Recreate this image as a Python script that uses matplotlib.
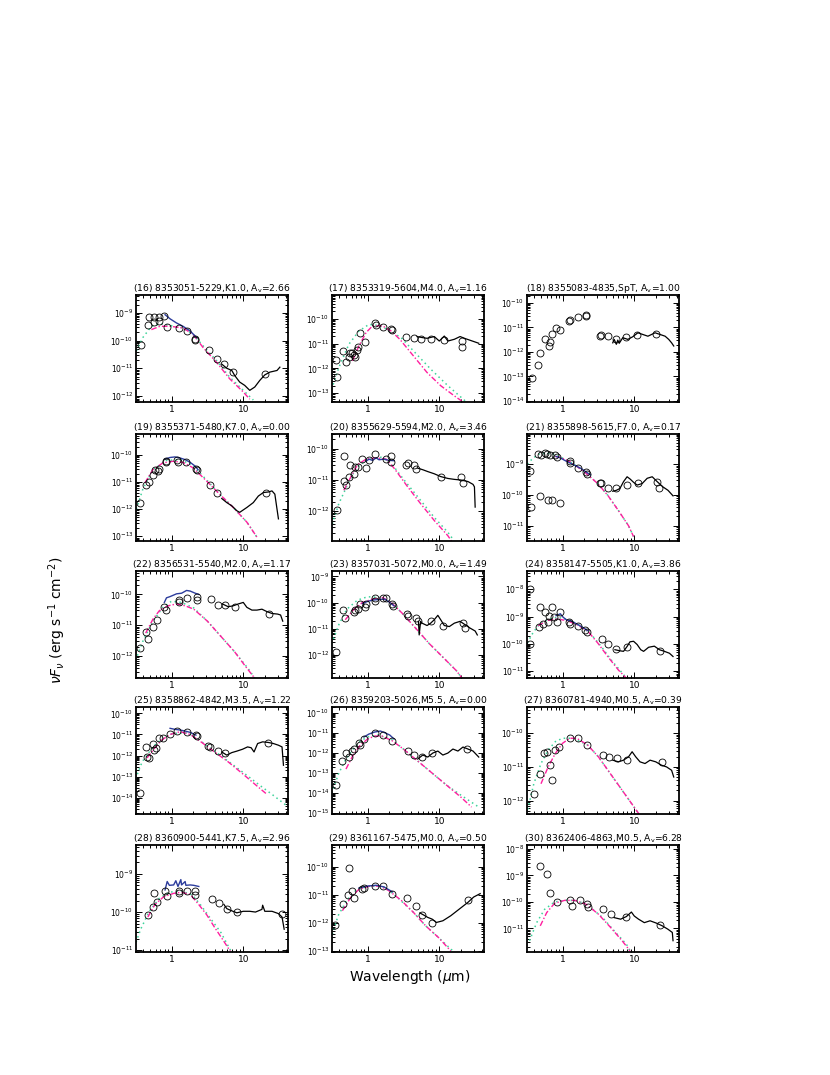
import numpy as np
import matplotlib.pyplot as plt
from matplotlib.ticker import NullFormatter, LogLocator, LogFormatterSciNotation

# panel ids and titles
panels = list(range(16, 31))
names = {16: "8353051-5229,K1.0", 17: "8353319-5604,M4.0", 18: "8355083-4835,SpT",
         19: "8355371-5480,K7.0", 20: "8355629-5594,M2.0", 21: "8355898-5615,F7.0",
         22: "8356531-5540,M2.0", 23: "8357031-5072,M0.0", 24: "8358147-5505,K1.0",
         25: "8358862-4842,M3.5", 26: "8359203-5026,M5.5", 27: "8360781-4940,M0.5",
         28: "8360900-5441,K7.5", 29: "8361167-5475,M0.0", 30: "8362406-4863,M0.5"}
av = {16: "2.66", 17: "1.16", 18: "1.00", 19: "0.00", 20: "3.46", 21: "0.17",
      22: "1.17", 23: "1.49", 24: "3.86", 25: "1.22", 26: "0.00", 27: "0.39",
      28: "2.96", 29: "0.50", 30: "6.28"}

# y range of each panel (erg s-1 cm-2)
ylims = {16: (6e-13, 4.5e-9), 17: (4.4e-14, 9e-10), 18: (9e-15, 2.1e-10),
         19: (6.7e-14, 5.8e-10), 20: (1.1e-13, 3e-10), 21: (3.2e-12, 9.5e-9),
         22: (1.9e-13, 5.8e-10), 23: (1.3e-13, 1.6e-9), 24: (5.5e-12, 4.7e-8),
         25: (1.7e-15, 2e-10), 26: (9e-16, 2e-10), 27: (4e-13, 6e-10),
         28: (9e-12, 5.7e-9), 29: (9e-14, 6e-10), 30: (1.3e-12, 1.4e-8)}

# photometry: (log10 wavelength [um], log10 nuFnu)
phot = {
    16: ([-0.43, -0.33, -0.31, -0.24, -0.25, -0.17, -0.17, -0.10, -0.06, 0.11, 0.21, 0.33, 0.33, 0.52, 0.63, 0.73, 0.86, 1.30],
         [-10.15, -9.42, -9.14, -9.14, -9.33, -9.14, -9.30, -9.10, -9.51, -9.54, -9.65, -9.93, -9.98, -10.35, -10.67, -10.85, -11.14, -11.20]),
    17: ([-0.44, -0.43, -0.34, -0.30, -0.26, -0.24, -0.21, -0.19, -0.18, -0.15, -0.13, -0.10, -0.03, 0.10, 0.12, 0.22, 0.33, 0.34, 0.53, 0.65, 0.75, 0.89, 1.06, 1.32, 1.32],
         [-11.67, -12.34, -11.30, -11.73, -11.53, -11.39, -11.37, -11.45, -11.53, -11.26, -11.16, -10.56, -10.94, -10.16, -10.27, -10.33, -10.43, -10.47, -10.72, -10.76, -10.83, -10.83, -10.87, -10.90, -11.14]),
    18: ([-0.43, -0.34, -0.31, -0.25, -0.19, -0.18, -0.15, -0.09, -0.03, 0.09, 0.10, 0.22, 0.33, 0.33, 0.52, 0.53, 0.64, 0.75, 0.89, 1.04, 1.30],
         [-13.05, -12.54, -12.03, -11.49, -11.76, -11.60, -11.25, -11.02, -11.11, -10.75, -10.68, -10.58, -10.54, -10.49, -11.36, -11.33, -11.36, -11.49, -11.38, -11.33, -11.26]),
    19: ([-0.44, -0.35, -0.32, -0.26, -0.23, -0.19, -0.17, -0.08, -0.07, 0.08, 0.09, 0.20, 0.34, 0.35, 0.53, 0.63, 1.32],
         [-11.78, -11.12, -10.99, -10.73, -10.55, -10.61, -10.51, -10.28, -10.24, -10.21, -10.27, -10.28, -10.51, -10.57, -11.13, -11.39, -11.42]),
    20: ([-0.43, -0.33, -0.33, -0.30, -0.26, -0.24, -0.19, -0.18, -0.13, -0.08, -0.02, 0.02, 0.10, 0.26, 0.33, 0.33, 0.53, 0.57, 0.65, 0.67, 1.02, 1.30, 1.33],
         [-11.96, -10.22, -11.02, -11.16, -10.91, -10.51, -10.82, -10.57, -10.57, -10.33, -10.60, -10.37, -10.16, -10.33, -10.24, -10.42, -10.53, -10.46, -10.53, -10.64, -10.91, -10.91, -11.11]),
    21: ([-0.45, -0.44, -0.34, -0.32, -0.30, -0.25, -0.22, -0.20, -0.18, -0.14, -0.10, -0.03, -0.08, 0.10, 0.11, 0.22, 0.33, 0.34, 0.52, 0.54, 0.64, 0.75, 0.90, 1.05, 1.32, 1.34],
         [-9.22, -10.40, -8.67, -10.04, -8.71, -8.64, -8.66, -10.18, -8.69, -10.18, -8.71, -10.26, -8.78, -8.91, -8.95, -9.11, -9.26, -9.32, -9.60, -9.60, -9.76, -9.77, -9.68, -9.60, -9.57, -9.77]),
    22: ([-0.44, -0.36, -0.33, -0.26, -0.20, -0.10, -0.07, 0.10, 0.11, 0.22, 0.35, 0.35, 0.55, 0.65, 0.75, 0.88, 1.36],
         [-11.73, -11.22, -11.44, -11.07, -10.84, -10.42, -10.51, -10.26, -10.18, -10.11, -10.07, -10.18, -10.14, -10.34, -10.33, -10.40, -10.64]),
    23: ([-0.44, -0.34, -0.31, -0.19, -0.17, -0.13, -0.10, -0.03, -0.02, 0.10, 0.10, 0.21, 0.26, 0.34, 0.36, 0.55, 0.57, 0.67, 0.70, 0.88, 1.05, 1.33, 1.36],
         [-11.89, -10.30, -10.59, -10.36, -10.30, -10.23, -10.07, -10.17, -10.04, -9.81, -9.94, -9.81, -9.83, -10.07, -10.13, -10.43, -10.50, -10.59, -10.69, -10.72, -10.88, -10.79, -10.96]),
    24: ([-0.45, -0.45, -0.33, -0.31, -0.27, -0.25, -0.20, -0.19, -0.14, -0.12, -0.07, -0.04, 0.09, 0.11, 0.22, 0.32, 0.34, 0.55, 0.64, 0.75, 0.90, 1.36],
         [-8.00, -10.01, -9.38, -8.65, -9.28, -8.84, -9.22, -8.97, -8.65, -9.03, -9.22, -8.84, -9.22, -9.28, -9.34, -9.51, -9.56, -9.84, -10.01, -10.20, -10.13, -10.26]),
    25: ([-0.44, -0.36, -0.34, -0.31, -0.26, -0.24, -0.21, -0.17, -0.12, -0.02, 0.08, 0.21, 0.34, 0.35, 0.51, 0.53, 0.65, 0.75, 1.35],
         [-13.76, -11.59, -12.06, -12.11, -11.43, -11.75, -11.63, -11.19, -11.19, -11.00, -10.84, -10.90, -11.03, -11.08, -11.56, -11.59, -11.78, -11.87, -11.40]),
    26: ([-0.44, -0.35, -0.30, -0.26, -0.22, -0.19, -0.12, -0.10, -0.05, 0.10, 0.22, 0.34, 0.56, 0.65, 0.76, 0.90, 1.38],
         [-13.6, -12.4, -12.0, -12.2, -11.9, -11.8, -11.5, -11.6, -11.3, -11.0, -11.1, -11.4, -11.9, -12.1, -12.2, -12.0, -11.8]),
    27: ([-0.40, -0.32, -0.26, -0.21, -0.17, -0.15, -0.10, -0.05, 0.10, 0.22, 0.34, 0.56, 0.65, 0.76, 0.90, 1.38],
         [-11.8, -11.2, -10.6, -10.55, -10.95, -11.4, -10.5, -10.4, -10.15, -10.15, -10.35, -10.65, -10.7, -10.75, -10.8, -10.85]),
    28: ([-0.25, -0.33, -0.26, -0.20, -0.09, -0.06, 0.10, 0.11, 0.21, 0.33, 0.33, 0.57, 0.66, 0.77, 0.91, 1.54],
         [-9.51, -10.07, -9.87, -9.73, -9.45, -9.58, -9.45, -9.51, -9.45, -9.45, -9.55, -9.66, -9.75, -9.93, -10.00, -10.04]),
    29: ([-0.45, -0.26, -0.34, -0.27, -0.22, -0.19, -0.08, -0.05, 0.10, 0.22, 0.34, 0.55, 0.67, 0.76, 0.90, 1.40],
         [-12.08, -10.04, -11.33, -11.02, -10.87, -11.12, -10.78, -10.76, -10.69, -10.69, -10.99, -11.12, -11.41, -11.72, -12.02, -11.20]),
    30: ([-0.32, -0.22, -0.17, -0.07, 0.11, 0.13, 0.25, 0.34, 0.36, 0.57, 0.67, 0.89, 1.36],
         [-8.63, -8.96, -9.68, -9.99, -9.93, -10.15, -9.94, -10.09, -10.19, -10.28, -10.44, -10.55, -10.86]),
}

# mid-IR spectra (black)
irs = {
    16: ([0.70, 0.77, 0.84, 0.88, 0.95, 1.02, 1.09, 1.16, 1.23, 1.30, 1.37, 1.47, 1.51],
         [-10.85, -11.00, -11.08, -11.26, -11.50, -11.62, -11.80, -11.68, -11.44, -11.24, -11.14, -11.08, -10.96]),
    17: ([0.69, 0.76, 0.83, 0.93, 1.00, 1.07, 1.12, 1.21, 1.29, 1.36, 1.43, 1.50, 1.55],
         [-10.72, -10.76, -10.79, -10.72, -10.90, -10.70, -10.90, -10.83, -10.72, -10.80, -10.87, -10.94, -10.99]),
    18: ([0.70, 0.72, 0.75, 0.77, 0.79, 0.84, 0.91, 0.98, 1.05, 1.12, 1.19, 1.29, 1.36, 1.43, 1.48, 1.52, 1.55],
         [-11.63, -11.49, -11.69, -11.52, -11.65, -11.42, -11.49, -11.38, -11.22, -11.29, -11.36, -11.22, -11.29, -11.36, -11.49, -11.63, -11.76]),
    19: ([0.70, 0.77, 0.84, 0.91, 0.95, 1.05, 1.14, 1.21, 1.28, 1.35, 1.40, 1.44, 1.47, 1.49],
         [-11.61, -11.76, -11.88, -12.06, -12.12, -11.94, -11.76, -11.52, -11.39, -11.37, -11.33, -11.45, -12.00, -12.36]),
    20: ([0.70, 0.77, 0.84, 0.93, 1.02, 1.12, 1.21, 1.30, 1.40, 1.47, 1.49, 1.50],
         [-10.62, -10.67, -10.73, -10.80, -10.89, -10.95, -10.98, -11.00, -11.05, -11.14, -11.22, -11.87]),
    21: ([0.70, 0.75, 0.80, 0.85, 0.90, 0.94, 0.99, 1.04, 1.11, 1.18, 1.25, 1.32, 1.40, 1.47, 1.54],
         [-9.88, -9.85, -9.79, -9.57, -9.41, -9.48, -9.59, -9.68, -9.63, -9.46, -9.41, -9.57, -9.74, -9.85, -10.03]),
    22: ([0.71, 0.79, 0.86, 0.93, 1.00, 1.05, 1.12, 1.19, 1.26, 1.33, 1.40, 1.48, 1.52, 1.55],
         [-10.31, -10.40, -10.37, -10.31, -10.26, -10.42, -10.51, -10.51, -10.48, -10.56, -10.62, -10.64, -10.67, -10.87]),
    23: ([0.71, 0.72, 0.74, 0.76, 0.83, 0.88, 0.93, 0.98, 1.02, 1.07, 1.14, 1.21, 1.29, 1.36, 1.43, 1.50, 1.53],
         [-10.72, -11.24, -10.72, -10.79, -10.88, -10.79, -10.66, -10.49, -10.66, -10.88, -10.92, -10.79, -10.72, -10.85, -10.98, -11.09, -11.24]),
    24: ([0.73, 0.80, 0.85, 0.90, 0.94, 0.99, 1.04, 1.09, 1.13, 1.20, 1.28, 1.35, 1.42, 1.49, 1.54],
         [-10.22, -10.26, -10.28, -10.10, -9.93, -9.91, -10.03, -10.22, -10.28, -10.13, -10.09, -10.22, -10.28, -10.35, -10.47]),
    25: ([0.70, 0.77, 0.84, 0.91, 0.99, 1.06, 1.11, 1.15, 1.20, 1.27, 1.35, 1.42, 1.49, 1.54, 1.56],
         [-11.83, -11.98, -11.86, -11.79, -11.70, -11.59, -11.63, -11.83, -11.43, -11.35, -11.38, -11.43, -11.51, -11.59, -12.46]),
    26: ([0.70, 0.77, 0.84, 0.91, 0.98, 1.05, 1.12, 1.19, 1.26, 1.33, 1.40, 1.47, 1.55],
         [-12.3, -12.1, -12.2, -12.0, -11.9, -12.1, -12.0, -11.8, -11.9, -11.7, -11.8, -11.9, -12.2]),
    27: ([0.70, 0.78, 0.85, 0.92, 0.97, 1.02, 1.08, 1.15, 1.22, 1.30, 1.38, 1.45, 1.52, 1.55],
         [-10.8, -10.85, -10.8, -10.7, -10.55, -10.7, -10.85, -10.9, -10.8, -10.85, -10.95, -11.0, -11.1, -11.3]),
    28: ([0.73, 0.77, 0.83, 0.91, 1.00, 1.09, 1.17, 1.26, 1.27, 1.30, 1.40, 1.49, 1.54, 1.57],
         [-9.80, -9.91, -9.96, -10.02, -9.98, -9.98, -10.00, -9.93, -9.82, -9.98, -9.98, -10.04, -10.13, -10.45]),
    29: ([0.73, 0.78, 0.84, 0.90, 0.96, 1.05, 1.16, 1.28, 1.40, 1.48, 1.57],
         [-11.65, -11.72, -11.81, -11.87, -11.99, -11.93, -11.75, -11.51, -11.27, -11.08, -10.96]),
    30: ([0.72, 0.81, 0.89, 0.96, 1.00, 1.06, 1.14, 1.22, 1.31, 1.39, 1.47, 1.53, 1.54],
         [-10.59, -10.65, -10.55, -10.38, -10.53, -10.65, -10.78, -10.71, -10.80, -10.90, -11.03, -11.15, -11.46]),
}

# near-IR spectra (blue)
nir = {
    16: ([-0.09, -0.02, 0.07, 0.16, 0.26, 0.35], [-9.06, -9.21, -9.36, -9.48, -9.65, -9.89]),
    19: ([-0.09, -0.02, 0.05, 0.12, 0.19, 0.26, 0.33, 0.37], [-10.16, -10.10, -10.08, -10.12, -10.18, -10.28, -10.42, -10.55]),
    20: ([-0.02, 0.02, 0.07, 0.12, 0.16, 0.23, 0.30, 0.37], [-10.40, -10.33, -10.37, -10.29, -10.35, -10.33, -10.37, -10.38]),
    21: ([-0.09, -0.03, 0.04, 0.11, 0.18, 0.25, 0.32, 0.39], [-8.75, -8.80, -8.89, -8.97, -9.05, -9.13, -9.24, -9.35]),
    22: ([-0.10, -0.07, -0.02, 0.02, 0.07, 0.14, 0.21, 0.26, 0.33, 0.38], [-10.26, -10.11, -10.07, -10.03, -9.98, -9.96, -9.87, -9.89, -9.96, -10.00]),
    23: ([-0.07, 0.00, 0.07, 0.14, 0.24, 0.31, 0.37], [-10.04, -9.96, -9.91, -9.89, -9.87, -10.00, -10.13]),
    24: ([-0.09, -0.03, 0.01, 0.06, 0.11, 0.16, 0.23, 0.30, 0.36], [-8.97, -8.90, -9.03, -9.13, -9.15, -9.22, -9.32, -9.43, -9.53]),
    25: ([-0.02, 0.05, 0.12, 0.19, 0.26, 0.34], [-10.71, -10.76, -10.79, -10.84, -10.90, -11.03]),
    26: ([-0.05, 0.02, 0.10, 0.18, 0.25, 0.31, 0.37], [-11.2, -11.05, -10.95, -10.9, -11.0, -11.1, -11.3]),
    28: ([-0.09, -0.06, -0.03, 0.03, 0.06, 0.09, 0.13, 0.14, 0.19, 0.20, 0.26, 0.31, 0.38],
         [-9.42, -9.20, -9.30, -9.29, -9.18, -9.33, -9.15, -9.29, -9.20, -9.30, -9.29, -9.30, -9.33]),
    29: ([-0.12, 0.00, 0.12, 0.23, 0.35], [-10.76, -10.69, -10.66, -10.72, -10.90]),
}

# reddened photosphere (magenta dash-dot)
phot_model = {
    16: ([-0.28, -0.16, -0.02, 0.16, 0.30, 0.44, 0.63, 0.81, 1.00, 1.09], [-9.60, -9.48, -9.48, -9.54, -9.77, -10.25, -10.79, -11.38, -11.86, -12.12]),
    17: ([-0.21, -0.12, -0.02, 0.07, 0.21, 0.33, 0.45, 0.64, 0.83, 1.02, 1.21, 1.31], [-11.70, -11.10, -10.56, -10.29, -10.29, -10.50, -10.83, -11.50, -12.17, -12.70, -13.11, -13.31]),
    19: ([-0.37, -0.26, -0.12, 0.02, 0.16, 0.30, 0.49, 0.67, 0.86, 1.05, 1.19], [-11.03, -10.55, -10.30, -10.24, -10.28, -10.48, -10.97, -11.45, -11.94, -12.48, -13.03]),
    20: ([-0.33, -0.23, -0.14, -0.02, 0.12, 0.26, 0.37, 0.56, 0.74, 0.93, 1.12, 1.17], [-11.33, -10.89, -10.51, -10.33, -10.29, -10.33, -10.62, -11.22, -11.76, -12.30, -12.79, -12.96]),
    21: ([-0.10, -0.03, 0.11, 0.30, 0.49, 0.63, 0.78, 0.92, 0.99], [-8.75, -8.78, -8.93, -9.24, -9.63, -10.01, -10.51, -11.00, -11.35]),
    22: ([-0.36, -0.26, -0.17, -0.05, 0.07, 0.19, 0.31, 0.50, 0.69, 0.88, 1.02, 1.17], [-11.26, -10.81, -10.53, -10.37, -10.31, -10.37, -10.48, -10.87, -11.37, -11.87, -12.31, -12.76]),
    23: ([-0.31, -0.19, -0.07, 0.07, 0.21, 0.33, 0.48, 0.67, 0.86, 1.05, 1.24, 1.32], [-10.66, -10.26, -10.00, -9.87, -9.81, -10.00, -10.40, -10.98, -11.57, -12.09, -12.61, -12.91]),
    24: ([-0.34, -0.22, -0.08, 0.06, 0.20, 0.35, 0.49, 0.63, 0.78, 0.90], [-9.34, -9.15, -9.09, -9.15, -9.30, -9.53, -9.97, -10.47, -10.97, -11.29]),
    25: ([-0.34, -0.24, -0.14, -0.02, 0.12, 0.26, 0.41, 0.60, 0.79, 0.99, 1.18, 1.32], [-12.11, -11.67, -11.27, -11.00, -10.87, -11.00, -11.35, -11.83, -12.30, -12.86, -13.41, -13.81]),
    26: ([-0.30, -0.20, -0.10, 0.00, 0.10, 0.20, 0.35, 0.50, 0.70, 0.90, 1.10, 1.30, 1.45], [-12.8, -12.1, -11.6, -11.3, -11.15, -11.15, -11.4, -11.8, -12.4, -13.0, -13.6, -14.2, -14.7]),
    27: ([-0.30, -0.20, -0.10, 0.00, 0.10, 0.20, 0.35, 0.50, 0.70, 0.90, 1.10], [-11.5, -11.0, -10.6, -10.3, -10.15, -10.15, -10.35, -10.7, -11.3, -11.9, -12.5]),
    28: ([-0.33, -0.23, -0.11, 0.03, 0.14, 0.26, 0.37, 0.49, 0.60, 0.71, 0.82], [-10.13, -9.80, -9.60, -9.51, -9.48, -9.54, -9.78, -10.07, -10.40, -10.71, -11.03]),
    29: ([-0.35, -0.23, -0.12, 0.03, 0.17, 0.29, 0.47, 0.64, 0.81, 0.99, 1.16], [-11.57, -11.08, -10.81, -10.69, -10.69, -10.84, -11.20, -11.63, -12.11, -12.53, -13.01]),
    30: ([-0.31, -0.22, -0.11, 0.03, 0.17, 0.33, 0.50, 0.67, 0.83, 0.94], [-10.90, -10.40, -10.05, -9.94, -9.94, -10.09, -10.46, -10.96, -11.46, -11.84]),
}

# dereddened model (green dotted)
star_model = {
    16: ([-0.49, -0.40, -0.28, -0.16, -0.02, 0.16, 0.30, 0.44, 0.63, 0.81, 1.00, 1.14], [-10.37, -9.89, -9.48, -9.39, -9.45, -9.54, -9.77, -10.19, -10.73, -11.32, -11.80, -12.15]),
    17: ([-0.50, -0.40, -0.26, -0.12, 0.02, 0.14, 0.31, 0.48, 0.67, 0.88, 1.12, 1.36], [-12.84, -11.97, -11.03, -10.50, -10.23, -10.27, -10.46, -10.80, -11.39, -12.03, -12.70, -13.31]),
    19: ([-0.49, -0.40, -0.26, -0.07, 0.12, 0.28, 0.49, 0.67, 0.86, 1.05, 1.19], [-12.00, -11.27, -10.55, -10.21, -10.18, -10.36, -10.93, -11.45, -11.94, -12.48, -13.03]),
    20: ([-0.49, -0.40, -0.28, -0.16, 0.00, 0.19, 0.33, 0.51, 0.70, 0.93, 1.12, 1.19], [-12.41, -11.76, -11.16, -10.62, -10.33, -10.27, -10.46, -11.00, -11.54, -12.20, -12.68, -12.90]),
    21: ([-0.49, -0.41, -0.32, -0.22, -0.10, 0.11, 0.30, 0.49, 0.63, 0.78, 0.92, 0.99], [-9.00, -8.80, -8.67, -8.64, -8.69, -8.93, -9.24, -9.63, -10.01, -10.51, -11.00, -11.35]),
    22: ([-0.50, -0.40, -0.26, -0.12, 0.00, 0.14, 0.31, 0.50, 0.69, 0.88, 1.07, 1.17], [-12.14, -11.53, -10.87, -10.42, -10.22, -10.26, -10.44, -10.87, -11.37, -11.87, -12.42, -12.76]),
    23: ([-0.50, -0.40, -0.29, -0.14, 0.00, 0.19, 0.33, 0.48, 0.67, 0.86, 1.05, 1.24, 1.32], [-11.57, -10.85, -10.26, -9.91, -9.78, -9.81, -10.00, -10.40, -10.98, -11.57, -12.09, -12.61, -12.91]),
    24: ([-0.49, -0.41, -0.32, -0.18, -0.06, 0.11, 0.25, 0.40, 0.54, 0.68, 0.82, 0.90], [-9.97, -9.59, -9.28, -9.09, -9.03, -9.15, -9.34, -9.66, -10.10, -10.60, -11.04, -11.29]),
    25: ([-0.50, -0.41, -0.26, -0.12, 0.02, 0.22, 0.41, 0.60, 0.79, 0.99, 1.23, 1.42, 1.66], [-13.10, -12.30, -11.59, -11.16, -10.95, -10.92, -11.32, -11.79, -12.27, -12.78, -13.41, -13.89, -14.52]),
    26: ([-0.50, -0.40, -0.30, -0.20, -0.10, 0.00, 0.15, 0.35, 0.50, 0.70, 0.90, 1.10, 1.30, 1.55], [-14.0, -13.0, -12.3, -11.8, -11.4, -11.2, -11.1, -11.35, -11.8, -12.4, -13.0, -13.6, -14.1, -14.7]),
    27: ([-0.50, -0.40, -0.30, -0.20, -0.10, 0.00, 0.15, 0.35, 0.50, 0.70, 0.90, 1.10], [-12.4, -11.5, -10.9, -10.5, -10.25, -10.15, -10.15, -10.35, -10.7, -11.3, -11.9, -12.5]),
    28: ([-0.54, -0.43, -0.31, -0.17, -0.03, 0.14, 0.29, 0.40, 0.54, 0.69, 0.83], [-11.03, -10.45, -9.98, -9.64, -9.48, -9.45, -9.55, -9.80, -10.16, -10.54, -11.03]),
    29: ([-0.49, -0.41, -0.29, -0.15, 0.03, 0.23, 0.41, 0.64, 0.81, 0.99, 1.19], [-12.41, -11.75, -11.20, -10.81, -10.69, -10.72, -11.08, -11.63, -12.11, -12.53, -13.01]),
    30: ([-0.46, -0.36, -0.25, -0.11, 0.06, 0.22, 0.39, 0.56, 0.72, 0.89, 0.94], [-11.46, -10.78, -10.28, -10.00, -9.93, -9.96, -10.21, -10.59, -11.09, -11.59, -11.84]),
}

W, H = 830, 1075
col_left = [136, 332, 527]
row_top = [295, 434, 571, 707, 845]
ax_w, ax_h = 152, 107

magenta = "#ff1f9f"
green = "#3dd39a"
blue = "#2c3c9c"

fig = plt.figure(figsize=(W / 100, H / 100), dpi=100)


def pw(d, key):
    lw, lf = d[key]
    return 10 ** np.array(lw), 10 ** np.array(lf)


for i, p in enumerate(panels):
    r, c = divmod(i, 3)
    ax = fig.add_axes([col_left[c] / W, 1 - (row_top[r] + ax_h) / H, ax_w / W, ax_h / H])
    ax.set_xscale("log")
    ax.set_yscale("log")

    if p in star_model:
        x, y = pw(star_model, p)
        ax.plot(x, y, color=green, lw=1.1, dashes=(1, 2.2))
    if p in phot_model:
        x, y = pw(phot_model, p)
        ax.plot(x, y, color=magenta, lw=1.0, dashes=(4, 1.5, 1, 1.5))
    if p in nir:
        x, y = pw(nir, p)
        ax.plot(x, y, color=blue, lw=1.0)
    x, y = pw(irs, p)
    ax.plot(x, y, color="k", lw=0.9)
    x, y = pw(phot, p)
    ax.plot(x, y, "o", mfc="none", mec="k", ms=5, mew=0.6)

    lo, hi = ylims[p]
    ax.set_xlim(0.32, 42)
    ax.set_ylim(lo, hi)
    ax.set_xticks([1, 10])
    ax.set_xticklabels(["1", "10"])
    ax.xaxis.set_minor_locator(LogLocator(base=10, subs=np.arange(2, 10), numticks=20))
    ax.xaxis.set_minor_formatter(NullFormatter())
    # only decades inside the visible range get a labelled tick
    decades = np.arange(np.ceil(np.log10(lo)), np.floor(np.log10(hi)) + 1)
    ax.set_yticks(10.0 ** decades)
    ax.yaxis.set_major_formatter(LogFormatterSciNotation())
    ax.yaxis.set_minor_locator(LogLocator(base=10, subs=np.arange(2, 10), numticks=20))
    ax.yaxis.set_minor_formatter(NullFormatter())
    ax.tick_params(which="both", direction="in", top=True, right=True, width=0.7)
    ax.tick_params(which="major", length=4)
    ax.tick_params(which="minor", length=2)
    ax.tick_params(axis="y", labelsize=5.5, pad=2)
    ax.tick_params(axis="x", labelsize=6.5, pad=2.5)
    for s in ax.spines.values():
        s.set_linewidth(1.3)
    ax.set_title(f"({p}) {names[p]}, A$_\\mathrm{{v}}$={av[p]}", fontsize=6.6, pad=2.5)

fig.text(57 / W, 1 - 620 / H, r"$\nu F_\nu$ (erg s$^{-1}$ cm$^{-2}$)",
         rotation=90, ha="center", va="center", fontsize=10)
fig.text(410 / W, 1 - 977 / H, r"Wavelength ($\mu$m)", ha="center", va="center", fontsize=10)

fig.savefig("out.png", dpi=100)
